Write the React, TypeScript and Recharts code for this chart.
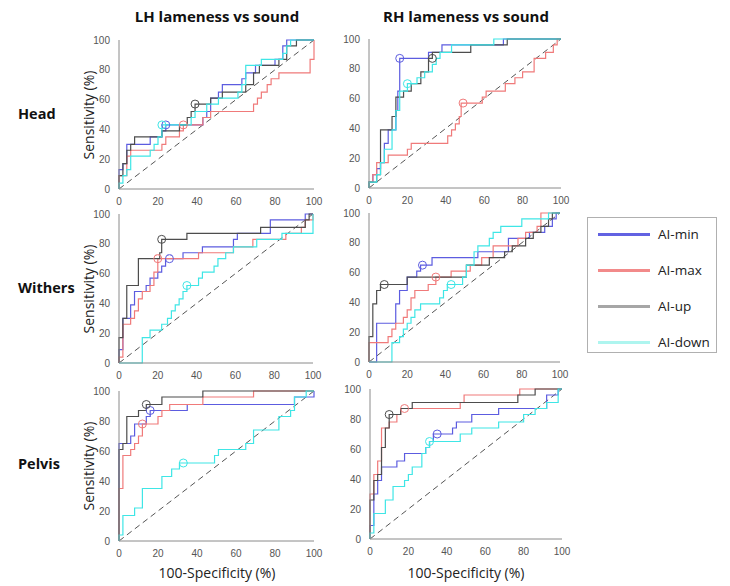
import React from "react";
import { ComposedChart, Line, XAxis, YAxis, ReferenceDot } from "recharts";

type Pt = [number, number];

const TICKS = [0, 20, 40, 60, 80, 100];
const DIAG: Pt[] = [[0, 0], [100, 100]];
const SERIES_NAMES = ["AI-min", "AI-max", "AI-up", "AI-down"];
const COLUMN_TITLES = ["LH lameness vs sound", "RH lameness vs sound"];
const ROW_TITLES = ["Head", "Withers", "Pelvis"];

// LH / Head
const LH_HEAD_MIN: Pt[] = [[0,0],[0,13],[2,13],[2,17],[4,17],[4,30],[16,30],[16,35],[22,35],[22,39],[24,39],[24,43],[43,43],[43,48],[45,48],[45,52],[47,52],[47,61],[51,61],[51,65],[53,65],[53,70],[63,70],[63,74],[65,74],[65,78],[70,78],[70,83],[80,83],[80,87],[84,87],[84,96],[86,96],[86,100],[100,100]];
const LH_HEAD_MAX: Pt[] = [[0,0],[0,9],[4,9],[4,22],[6,22],[6,26],[22,26],[22,30],[24,30],[24,35],[31,35],[31,39],[33,39],[33,43],[43,43],[43,48],[47,48],[47,52],[69,52],[69,57],[71,57],[71,61],[73,61],[73,65],[76,65],[76,70],[78,70],[78,74],[82,74],[82,78],[98,78],[98,87],[100,87],[100,100]];
const LH_HEAD_UP: Pt[] = [[0,0],[0,9],[2,9],[2,17],[4,17],[4,26],[6,26],[6,30],[8,30],[8,35],[22,35],[22,39],[31,39],[31,43],[35,43],[35,48],[37,48],[37,52],[39,52],[39,57],[47,57],[47,61],[53,61],[53,65],[65,65],[65,70],[69,70],[69,78],[72,78],[72,83],[82,83],[82,87],[86,87],[86,96],[91,96],[91,100],[100,100]];
const LH_HEAD_DOWN: Pt[] = [[0,0],[0,4],[2,4],[2,9],[4,9],[4,13],[6,13],[6,22],[16,22],[16,26],[18,26],[18,30],[20,30],[20,35],[22,35],[22,43],[37,43],[37,48],[39,48],[39,52],[45,52],[45,57],[51,57],[51,61],[61,61],[61,65],[63,65],[63,70],[65,70],[65,83],[73,83],[73,87],[84,87],[84,91],[86,91],[86,96],[88,96],[88,100],[100,100]];
const LH_HEAD_MARKS: Pt[] = [[24,43],[33,43],[39,57],[22,43]];

// RH / Head
const RH_HEAD_MIN: Pt[] = [[0,0],[0,4],[2,4],[2,9],[4,9],[4,13],[6,13],[6,17],[8,17],[8,30],[10,30],[10,39],[14,39],[14,52],[15,52],[15,65],[16,65],[16,87],[31,87],[31,91],[38,91],[38,96],[70,96],[70,100],[100,100]];
const RH_HEAD_MAX: Pt[] = [[0,0],[0,4],[2,4],[2,9],[4,9],[4,17],[10,17],[10,22],[20,22],[20,26],[22,26],[22,30],[41,30],[41,35],[43,35],[43,39],[45,39],[45,43],[47,43],[47,48],[48,48],[48,57],[59,57],[59,61],[61,61],[61,65],[71,65],[71,70],[76,70],[76,74],[80,74],[80,78],[86,78],[86,87],[92,87],[92,91],[96,91],[96,96],[98,96],[98,100],[100,100]];
const RH_HEAD_UP: Pt[] = [[0,0],[0,4],[4,4],[4,9],[6,9],[6,39],[12,39],[12,48],[14,48],[14,61],[18,61],[18,65],[22,65],[22,70],[27,70],[27,78],[31,78],[31,87],[33,87],[33,91],[53,91],[53,96],[72,96],[72,100],[100,100]];
const RH_HEAD_DOWN: Pt[] = [[0,0],[0,4],[4,4],[4,9],[6,9],[6,17],[8,17],[8,26],[12,26],[12,39],[14,39],[14,52],[16,52],[16,65],[20,65],[20,70],[25,70],[25,74],[29,74],[29,78],[33,78],[33,83],[35,83],[35,87],[37,87],[37,91],[43,91],[43,96],[65,96],[65,100],[100,100]];
const RH_HEAD_MARKS: Pt[] = [[16,87],[49,57],[33,87],[20,70]];

// LH / Withers
const LH_WITH_MIN: Pt[] = [[0,0],[0,9],[2,9],[2,30],[6,30],[6,39],[8,39],[8,48],[14,48],[14,52],[16,52],[16,57],[20,57],[20,61],[22,61],[22,65],[24,65],[24,70],[33,70],[33,74],[43,74],[43,78],[59,78],[59,83],[61,83],[61,87],[78,87],[78,96],[96,96],[96,100],[100,100]];
const LH_WITH_MAX: Pt[] = [[0,0],[0,4],[2,4],[2,26],[6,26],[6,30],[8,30],[8,35],[10,35],[10,43],[12,43],[12,48],[16,48],[16,52],[18,52],[18,61],[20,61],[20,70],[41,70],[41,74],[59,74],[59,78],[69,78],[69,83],[86,83],[86,87],[94,87],[94,91],[96,91],[96,96],[100,96],[100,100]];
const LH_WITH_UP: Pt[] = [[0,0],[0,17],[2,17],[2,30],[4,30],[4,52],[10,52],[10,70],[21,70],[21,74],[22,74],[22,83],[35,83],[35,87],[73,87],[73,91],[96,91],[96,96],[98,96],[98,100],[100,100]];
const LH_WITH_DOWN: Pt[] = [[0,0],[12,0],[12,17],[16,17],[16,22],[22,22],[22,26],[25,26],[25,30],[27,30],[27,35],[29,35],[29,39],[31,39],[31,43],[33,43],[33,48],[35,48],[35,52],[41,52],[41,57],[43,57],[43,61],[49,61],[49,65],[51,65],[51,70],[55,70],[55,74],[59,74],[59,78],[71,78],[71,83],[84,83],[84,87],[100,87],[100,100]];
const LH_WITH_MARKS: Pt[] = [[26,70],[20,70],[22,83],[35,52]];

// RH / Withers
const RH_WITH_MIN: Pt[] = [[0,0],[4,0],[4,26],[14,26],[14,39],[16,39],[16,48],[20,48],[20,57],[25,57],[25,61],[27,61],[27,65],[33,65],[33,70],[57,70],[57,74],[73,74],[73,83],[84,83],[84,87],[92,87],[92,91],[96,91],[96,96],[98,96],[98,100],[100,100]];
const RH_WITH_MAX: Pt[] = [[0,0],[0,13],[10,13],[10,17],[12,17],[12,22],[14,22],[14,26],[18,26],[18,30],[20,30],[20,35],[22,35],[22,43],[24,43],[24,48],[31,48],[31,52],[35,52],[35,57],[43,57],[43,61],[53,61],[53,65],[59,65],[59,70],[65,70],[65,78],[78,78],[78,83],[82,83],[82,87],[88,87],[88,91],[90,91],[90,100],[100,100]];
const RH_WITH_UP: Pt[] = [[0,0],[0,17],[2,17],[2,39],[4,39],[4,48],[6,48],[6,52],[20,52],[20,57],[51,57],[51,65],[63,65],[63,70],[71,70],[71,74],[75,74],[75,78],[82,78],[82,83],[86,83],[86,87],[90,87],[90,91],[94,91],[94,96],[96,96],[96,100],[100,100]];
const RH_WITH_DOWN: Pt[] = [[0,0],[12,0],[12,13],[16,13],[16,17],[18,17],[18,22],[20,22],[20,26],[22,26],[22,30],[24,30],[24,35],[27,35],[27,39],[37,39],[37,43],[39,43],[39,48],[41,48],[41,52],[49,52],[49,57],[51,57],[51,65],[55,65],[55,74],[57,74],[57,78],[63,78],[63,83],[65,83],[65,87],[69,87],[69,91],[80,91],[80,96],[94,96],[94,100],[100,100]];
const RH_WITH_MARKS: Pt[] = [[28,65],[35,57],[8,52],[43,52]];

// LH / Pelvis
const LH_PELV_MIN: Pt[] = [[0,0],[0,65],[6,65],[6,70],[8,70],[8,78],[14,78],[14,83],[16,83],[16,87],[35,87],[35,91],[90,91],[90,96],[100,96],[100,100]];
const LH_PELV_MAX: Pt[] = [[0,0],[0,35],[2,35],[2,57],[6,57],[6,61],[8,61],[8,65],[10,65],[10,70],[12,70],[12,78],[20,78],[20,83],[22,83],[22,87],[26,87],[26,91],[43,91],[43,96],[69,96],[69,100],[100,100]];
const LH_PELV_UP: Pt[] = [[0,0],[0,61],[2,61],[2,65],[4,65],[4,83],[10,83],[10,87],[14,87],[14,91],[22,91],[22,96],[43,96],[43,100],[100,100]];
const LH_PELV_DOWN: Pt[] = [[0,0],[0,4],[2,4],[2,17],[8,17],[8,22],[12,22],[12,35],[22,35],[22,43],[27,43],[27,48],[31,48],[31,52],[49,52],[49,57],[51,57],[51,61],[65,61],[65,65],[69,65],[69,74],[82,74],[82,83],[88,83],[88,87],[90,87],[90,96],[96,96],[96,100],[100,100]];
const LH_PELV_MARKS: Pt[] = [[16,87],[12,78],[14,91],[33,52]];

// RH / Pelvis
const RH_PELV_MIN: Pt[] = [[0,0],[0,9],[2,9],[2,30],[4,30],[4,39],[6,39],[6,48],[14,48],[14,52],[18,52],[18,57],[29,57],[29,61],[31,61],[31,65],[33,65],[33,70],[43,70],[43,74],[45,74],[45,78],[53,78],[53,83],[67,83],[67,87],[92,87],[92,96],[98,96],[98,100],[100,100]];
const RH_PELV_MAX: Pt[] = [[0,0],[0,30],[2,30],[2,43],[4,43],[4,52],[6,52],[6,74],[10,74],[10,78],[14,78],[14,83],[16,83],[16,87],[47,87],[47,91],[49,91],[49,96],[78,96],[78,100],[100,100]];
const RH_PELV_UP: Pt[] = [[0,0],[0,26],[2,26],[2,39],[4,39],[4,43],[6,43],[6,61],[8,61],[8,74],[10,74],[10,83],[16,83],[16,87],[22,87],[22,91],[77,91],[77,96],[86,96],[86,100],[100,100]];
const RH_PELV_DOWN: Pt[] = [[0,0],[0,4],[2,4],[2,17],[8,17],[8,26],[12,26],[12,35],[18,35],[18,39],[20,39],[20,43],[22,43],[22,48],[27,48],[27,57],[29,57],[29,61],[31,61],[31,65],[47,65],[47,70],[53,70],[53,74],[67,74],[67,78],[80,78],[80,83],[86,83],[86,87],[92,87],[92,91],[98,91],[98,100],[100,100]];
const RH_PELV_MARKS: Pt[] = [[35,70],[18,87],[10,83],[31,65]];

const LINE_COLORS = ["#5c5ce0", "#f07a7a", "#4d4d4d", "#3fe6e6"];
const LEGEND_COLORS = ["#6262e2", "#f28a8a", "#a6a6a6", "#aef5ef"];
const FONT = "'Open Sans', 'Liberation Sans', sans-serif";

const toPts = (arr: Pt[]) => arr.map(([x, y]) => ({ x, y }));

interface PanelProps {
  left: number;
  top: number;
  w: number;
  h: number;
  series: Pt[][];
  marks: Pt[];
}

function Panel({ left, top, w, h, series, marks }: PanelProps) {
  const axisStyle = { fontSize: 10, fill: "#555", fontFamily: "'Liberation Sans', Arial, sans-serif" };
  return (
    <div style={{ position: "absolute", left: left - 30, top: top - 6 }}>
      <ComposedChart width={w + 42} height={h + 24} margin={{ top: 6, right: 12, bottom: 0, left: 0 }}>
        <XAxis type="number" dataKey="x" domain={[0, 100]} ticks={TICKS} height={18}
          tick={axisStyle} tickLine={false} tickMargin={3} axisLine={{ stroke: "#8a8a8a" }} interval={0} />
        <YAxis type="number" dataKey="y" domain={[0, 100]} ticks={TICKS} width={30}
          tick={axisStyle} tickLine={false} tickMargin={3} axisLine={{ stroke: "#8a8a8a" }} interval={0} />
        <Line data={toPts(DIAG)} dataKey="y" type="linear" stroke="#555" strokeWidth={1}
          strokeDasharray="6 4" dot={false} isAnimationActive={false} />
        {series.map((s, i) => (
          <Line key={i} data={toPts(s)} dataKey="y" type="linear" stroke={LINE_COLORS[i]}
            strokeWidth={1.2} dot={false} isAnimationActive={false} />
        ))}
        {marks.map(([x, y], i) => (
          <ReferenceDot key={i} x={x} y={y} r={4} fill="none" stroke={LINE_COLORS[i]} strokeWidth={1} />
        ))}
      </ComposedChart>
    </div>
  );
}

const PANELS = [
  { left: 119, top: 40, w: 195, h: 149, series: [LH_HEAD_MIN, LH_HEAD_MAX, LH_HEAD_UP, LH_HEAD_DOWN], marks: LH_HEAD_MARKS },
  { left: 369, top: 39, w: 192, h: 149, series: [RH_HEAD_MIN, RH_HEAD_MAX, RH_HEAD_UP, RH_HEAD_DOWN], marks: RH_HEAD_MARKS },
  { left: 119, top: 214, w: 194, h: 149, series: [LH_WITH_MIN, LH_WITH_MAX, LH_WITH_UP, LH_WITH_DOWN], marks: LH_WITH_MARKS },
  { left: 369, top: 213, w: 191, h: 149, series: [RH_WITH_MIN, RH_WITH_MAX, RH_WITH_UP, RH_WITH_DOWN], marks: RH_WITH_MARKS },
  { left: 119, top: 391, w: 195, h: 150, series: [LH_PELV_MIN, LH_PELV_MAX, LH_PELV_UP, LH_PELV_DOWN], marks: LH_PELV_MARKS },
  { left: 370, top: 389, w: 192, h: 150, series: [RH_PELV_MIN, RH_PELV_MAX, RH_PELV_UP, RH_PELV_DOWN], marks: RH_PELV_MARKS },
];

export default function App() {
  return (
    <div style={{ position: "absolute", left: 0, top: 0, width: 730, height: 586, background: "#fff", fontFamily: FONT, color: "#111" }}>
      {COLUMN_TITLES.map((t, i) => (
        <div key={t} style={{ position: "absolute", left: i === 0 ? 117 : 366, width: 200, top: 6, textAlign: "center", fontSize: 15, fontWeight: 700 }}>
          {t}
        </div>
      ))}
      {ROW_TITLES.map((t, i) => (
        <div key={t} style={{ position: "absolute", left: 18, top: [104, 278, 454][i], fontSize: 14.5, fontWeight: 700 }}>
          {t}
        </div>
      ))}
      {[115, 289, 466].map((cy) => (
        <div key={cy} style={{ position: "absolute", left: 89 - 70, top: cy - 10, width: 140, height: 20, lineHeight: "20px",
          textAlign: "center", fontSize: 14, transform: "rotate(-90deg)", color: "#222" }}>
          Sensitivity (%)
        </div>
      ))}
      {[217, 466].map((cx) => (
        <div key={cx} style={{ position: "absolute", left: cx - 80, top: 563, width: 160, textAlign: "center", fontSize: 14, color: "#222" }}>
          100-Specificity (%)
        </div>
      ))}
      {PANELS.map((p, i) => (
        <Panel key={i} {...p} />
      ))}
      <div style={{ position: "absolute", left: 587, top: 217, width: 130, height: 136, border: "1px solid #b0b0b0", boxSizing: "border-box" }}>
        {SERIES_NAMES.map((n, i) => (
          <div key={n} style={{ position: "absolute", left: 10, top: 6 + i * 36, height: 20, display: "flex", alignItems: "center" }}>
            <span style={{ display: "inline-block", width: 52, height: 3, background: LEGEND_COLORS[i] }} />
            <span style={{ marginLeft: 8, fontSize: 13.5, color: "#222" }}>{n}</span>
          </div>
        ))}
      </div>
    </div>
  );
}
